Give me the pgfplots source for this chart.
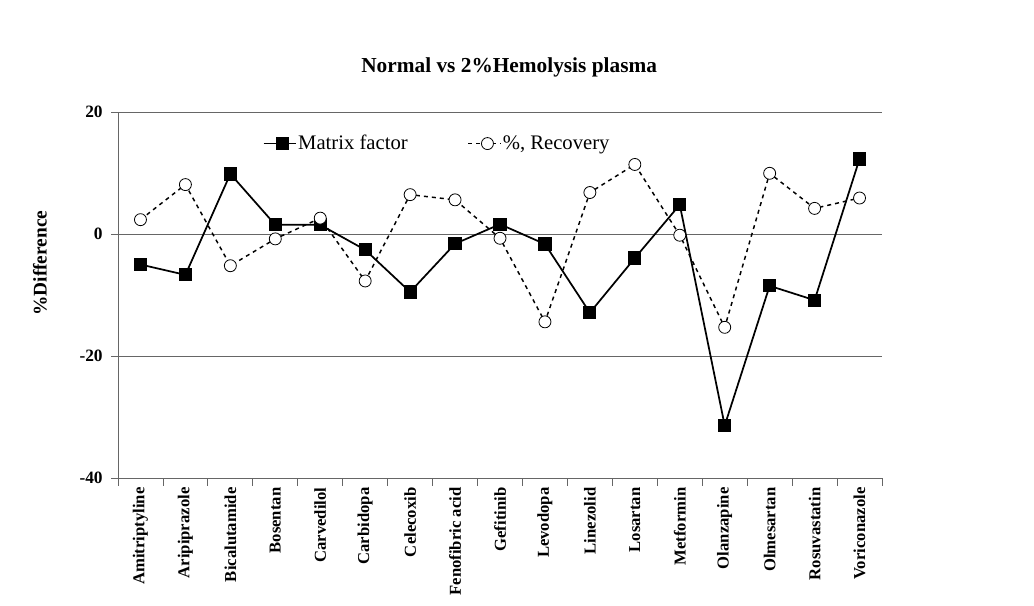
\documentclass[border=0pt]{standalone}
\usepackage{pgfplots}
\pgfplotsset{compat=1.18}
\usepackage{fontspec}
\setmainfont{Liberation Serif}
\begin{document}
\begin{tikzpicture}
\path (0,0) rectangle (775.5pt,454.5pt);
\begin{axis}[
  at={(88.5pt,96pt)}, anchor=south west,
  scale only axis, width=573pt, height=274.5pt,
  xmin=-0.5, xmax=16.5, ymin=-40, ymax=20,
  axis x line*=bottom, axis y line*=left,
  axis line style={gray!80!black, line width=0.6pt},
  xtick={0,...,16},
  xticklabels={Amitriptyline,Aripiprazole,Bicalutamide,Bosentan,Carvedilol,Carbidopa,Celecoxib,Fenofibric acid,Gefitinib,Levodopa,Linezolid,Losartan,Metformin,Olanzapine,Olmesartan,Rosuvastatin,Voriconazole},
  major x tick style={draw=none},
  minor xtick={-0.5,0.5,...,16.5},
  minor x tick style={gray!80!black, line width=0.6pt},
  minor tick length=6pt,
  tick align=outside,
  ytick={-40,-20,0,20},
  major tick length=5pt,
  y tick style={gray!80!black, line width=0.6pt},
  ymajorgrids, grid style={gray!80!black, line width=0.6pt},
  xticklabel style={rotate=90, anchor=east, font=\fontsize{12.5}{14}\selectfont\bfseries, inner sep=2pt},
  yticklabel style={font=\fontsize{13}{15}\selectfont\bfseries, xshift=-3pt},
  /pgf/number format/assume math mode=true,
  ylabel={\%Difference},
  ylabel style={at={(axis description cs:-0.102,0.587)}, anchor=center, rotate=0, font=\fontsize{14.5}{16}\selectfont\bfseries},
  title={Normal vs 2\%Hemolysis plasma},
  title style={at={(axis description cs:0.512,1.101)}, anchor=center, font=\fontsize{16}{18}\selectfont\bfseries},
  legend style={at={(rel axis cs:0.184,0.948)}, anchor=north west, draw=none, fill=none,
    font=\fontsize{15.5}{17}\selectfont, column sep=0pt,
    /tikz/every even column/.append style={column sep=44pt},
    nodes={inner sep=1pt}},
  legend columns=2,
  legend image code/.code={\draw[#1] (0pt,0pt) -- (0.85cm,0pt); \draw[#1, solid] plot coordinates {(0.5cm,0pt)};},
  clip=false,
]
\addplot[black, line width=1.3pt, mark=square*, mark size=4.3pt, mark options={solid, fill=black}] coordinates {
(0,-5.0) (1,-6.7) (2,9.85) (3,1.5) (4,1.5) (5,-2.6) (6,-9.5) (7,-1.6) (8,1.6) (9,-1.65) (10,-12.9) (11,-3.95) (12,4.8) (13,-31.4) (14,-8.5) (15,-10.85) (16,12.3)};
\addlegendentry{Matrix factor}
\addplot[black, line width=1.1pt, dashed, mark=*, mark size=4.5pt, mark options={solid, fill=white, line width=0.6pt}] coordinates {
(0,2.35) (1,8.1) (2,-5.2) (3,-0.8) (4,2.6) (5,-7.7) (6,6.45) (7,5.6) (8,-0.7) (9,-14.4) (10,6.8) (11,11.4) (12,-0.2) (13,-15.3) (14,9.95) (15,4.2) (16,5.9)};
\addlegendentry{\%, Recovery}
\end{axis}
\end{tikzpicture}
\end{document}
